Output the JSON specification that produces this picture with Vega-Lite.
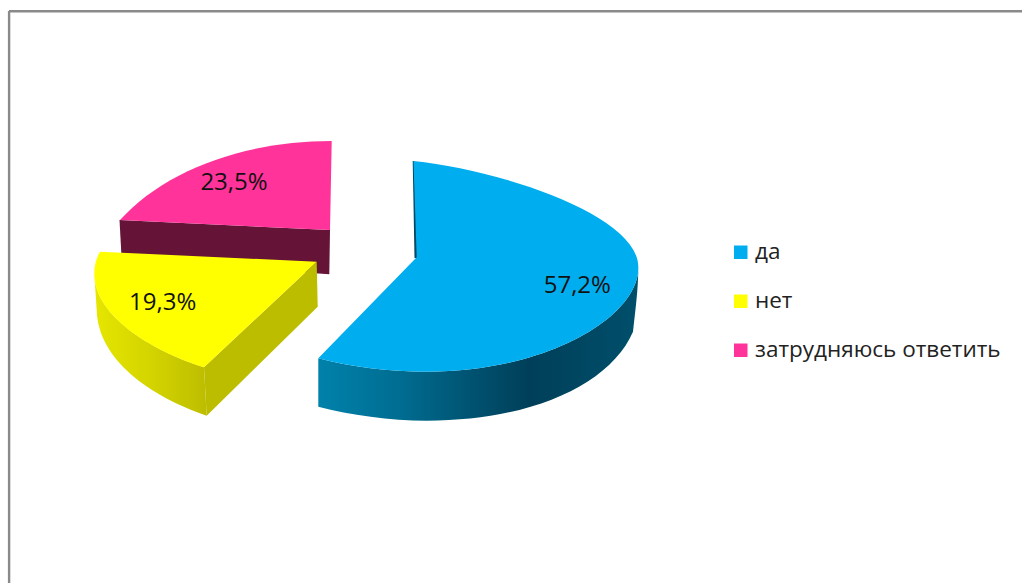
{
"$schema":"https://vega.github.io/schema/vega-lite/v6.json",
"width":1013,"height":572,
"autosize":{"type":"none"},
"padding":{"left":9,"top":11,"right":0,"bottom":0},
"background":"white",
"config":{"view":{"stroke":null},"font":"Open Sans"},
"data":{"values":[
{"ответ":"да","доля":57.2,"подпись":"57,2%"},
{"ответ":"нет","доля":19.3,"подпись":"19,3%"},
{"ответ":"затрудняюсь ответить","доля":23.5,"подпись":"23,5%"}
]},
"encoding":{
"x":{"field":"доля","type":"quantitative","axis":null,"scale":{"type":"linear","domain":[19.3,23.5,57.2],"range":[153.7,225,568.3],"nice":false,"zero":false}},
"y":{"field":"доля","type":"quantitative","axis":null,"scale":{"type":"linear","domain":[19.3,23.5,57.2],"range":[291.3,171,274],"nice":false,"zero":false}}
},
"layer":[
{"transform":[{"filter":"datum['ответ']=='затрудняюсь ответить'"}],
 "mark":{"type":"point","filled":true,"opacity":1,"size":4,"fill":"#651438","shape":"M-114.5,38 L96,48 L95.3,92.3 L-112.3,78 Z"}},
{"transform":[{"filter":"datum['ответ']=='затрудняюсь ответить'"}],
 "mark":{"type":"point","filled":true,"opacity":1,"size":4,"shape":"M-114,38 C-69,-12 11,-41 97.7,-41 L96,48 Z"},
 "encoding":{"color":{"field":"ответ","type":"nominal","scale":{"domain":["да","нет","затрудняюсь ответить"],"range":["#00AEEF","#FFFF00","#FF3399"]},
   "legend":{"title":null,"orient":"none","legendX":720.5,"legendY":230,"symbolType":"square","symbolSize":182,"labelFontSize":22.5,"labelFont":"Open Sans","labelColor":"#222222","labelLimit":320,"rowPadding":26,"labelOffset":3,"padding":0,"symbolStrokeWidth":0}}}},
{"transform":[{"filter":"datum['ответ']=='нет'"}],
 "mark":{"type":"point","filled":true,"opacity":1,"size":4,"shape":"M-68.4,-29 C-68.7,12.7 -12.7,47.7 41.3,65 L44,113.4 C-12.7,93.7 -64.7,57.7 -66,7.7 Z",
  "fill":{"gradient":"linear","x1":0,"y1":0,"x2":1,"y2":0,"stops":[{"offset":0,"color":"#E6E600"},{"offset":0.5,"color":"#D4D400"},{"offset":1,"color":"#BDBD00"}]}}},
{"transform":[{"filter":"datum['ответ']=='нет'"}],
 "mark":{"type":"point","filled":true,"opacity":1,"size":4,"fill":"#BDBD00","shape":"M41.3,65 L154,-40.6 L155,4.4 L44,113.4 Z"}},
{"transform":[{"filter":"datum['ответ']=='нет'"}],
 "mark":{"type":"point","filled":true,"opacity":1,"size":4,"shape":"M-62.7,-50.6 L154,-40.6 L41.3,65 C-12.7,47.7 -68.7,12.7 -68.4,-29 C-68.4,-37 -66.2,-44.6 -62.7,-50.6 Z"},
 "encoding":{"color":{"field":"ответ","type":"nominal"}}},
{"transform":[{"filter":"datum['ответ']=='да'"}],
 "mark":{"type":"point","filled":true,"opacity":1,"size":4,"fill":"#004A66","shape":"M-164.6,-124 L-162.8,-27 L-159.3,-27 L-163.3,-124 Z"}},
{"transform":[{"filter":"datum['ответ']=='да'"}],
 "mark":{"type":"point","filled":true,"opacity":1,"size":4,"shape":"M61,-18.3 C62.7,30 -27.3,86.7 -150.6,86.7 C-187.3,86.7 -227.3,82 -259,73.3 L-259,121.7 C-227.3,130 -187.3,135.7 -150.6,135.7 C-47.3,135.7 32.7,100 55.7,46.7 C58,25 61,5 61,-18.3 Z",
  "fill":{"gradient":"linear","x1":0,"y1":0,"x2":1,"y2":0,"stops":[{"offset":0,"color":"#0082AB"},{"offset":0.25,"color":"#006D92"},{"offset":0.5,"color":"#00506E"},{"offset":0.66,"color":"#003F59"},{"offset":1,"color":"#004F6B"}]}}},
{"transform":[{"filter":"datum['ответ']=='да'"}],
 "mark":{"type":"point","filled":true,"opacity":1,"size":4,"shape":"M-160.6,-27.7 L-163.8,-124 C-77.3,-115 60.7,-70 61,-18.3 C62.7,30 -27.3,86.7 -150.6,86.7 C-187.3,86.7 -227.3,82 -259,73.3 Z"},
 "encoding":{"color":{"field":"ответ","type":"nominal"}}},
{"mark":{"type":"text","align":"center","baseline":"middle","font":"Open Sans","fontSize":24,"color":"#111111","dy":1},
 "encoding":{"text":{"field":"подпись","type":"nominal"}}},
{"data":{"values":[{"рамка":"верх"}]},
 "mark":{"type":"rule","color":"#8A8A8A","strokeWidth":2.4},
 "encoding":{"y":{"value":0.3},"x":null}},
{"data":{"values":[{"рамка":"лево"}]},
 "mark":{"type":"rule","color":"#8A8A8A","strokeWidth":2.4},
 "encoding":{"x":{"value":0.1},"y":null}}
]
}
